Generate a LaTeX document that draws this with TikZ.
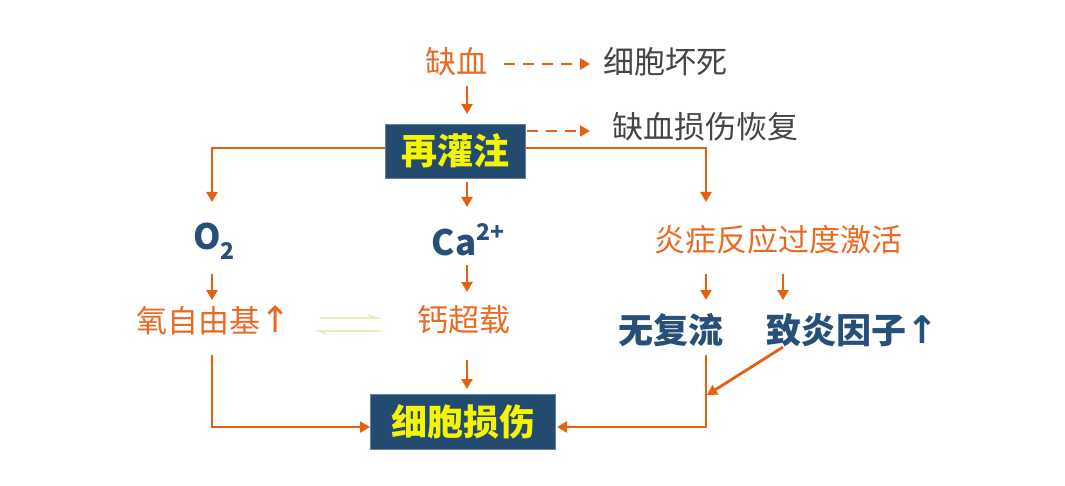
\documentclass[tikz,border=0pt]{standalone}
\usepackage{fontspec}
\usetikzlibrary{arrows.meta}
\newfontfamily\cjk{Noto Sans CJK SC}
\newfontfamily\dv{DejaVu Sans}
\definecolor{orng}{HTML}{E96A22}
\definecolor{lineo}{HTML}{E5600F}
\definecolor{dblue}{HTML}{26507A}
\definecolor{boxb}{HTML}{234B70}
\definecolor{ylw}{HTML}{F5F500}
\definecolor{gry}{HTML}{454545}
\definecolor{faint}{HTML}{E8EDBE}
\begin{document}
\begin{tikzpicture}[x=1pt,y=-1pt,
  otext/.style={font=\cjk\fontsize{31}{34}\selectfont, text=orng, inner sep=0pt},
  gtext/.style={font=\cjk\fontsize{31}{34}\selectfont, text=gry, inner sep=0pt},
  btext/.style={font=\cjk\bfseries\fontsize{35}{38}\selectfont, text=dblue, inner sep=0pt},
  chem/.style={font=\cjk\bfseries\fontsize{35}{38}\selectfont, text=dblue, inner sep=0pt},
  boxnode/.style={fill=boxb, draw=boxb!70!white, line width=0.8pt, text=ylw, font=\cjk\bfseries\fontsize{36}{40}\selectfont, inner sep=0pt},
  conn/.style={draw=lineo, line width=2.8pt, -{Triangle[length=10pt,width=11pt]}},
  dconn/.style={draw=lineo, line width=2.8pt, dash pattern=on 11pt off 8pt, -{Triangle[length=10pt,width=11pt]}}
]
\useasboundingbox (0,0) rectangle (1065,486);
% nodes
\node[otext] (que) at (456,62) {缺血};
\node[gtext] (necro) at (665,62) {细胞坏死};
\node[boxnode, minimum width=140pt, minimum height=54pt] (rep) at (455,151) {再灌注};
\node[gtext] (recov) at (705,127) {缺血损伤恢复};
\node[chem] (o2) at (214,241) {O\raisebox{-0.3em}{\fontsize{23}{24}\selectfont 2}};
\node[chem] (ca) at (468,240) {Ca\raisebox{0.42em}{\fontsize{23}{24}\selectfont 2+}};
\node[otext] (infl) at (778,240) {炎症反应过度激活};
\node[otext] (ros) at (214,321) {氧自由基{\dv\fontsize{36}{38}\selectfont ↑}};
\node[otext] (caov) at (464,320) {钙超载};
\node[btext] (noflow) at (671,330) {无复流};
\node[btext] (cyto) at (852,330) {致炎因子{\dv\fontsize{38}{40}\selectfont ↑}};
\node[boxnode, minimum width=185pt, minimum height=55pt] (dmg) at (463,422) {细胞损伤};
% faint double arrow
\coordinate (fa1) at (320,318);
\coordinate (fa2) at (381,318);
\coordinate (fb1) at (381,331);
\coordinate (fb2) at (314,331);
\draw[faint, line width=1.8pt, -{Straight Barb[left,length=8pt,width=6pt]}] (fa1) -- (fa2);
\draw[faint, line width=1.8pt, -{Straight Barb[left,length=8pt,width=6pt]}] (fb1) -- (fb2);
% connector coordinates
\coordinate (d1s) at (504,64);
\coordinate (d1e) at (590,64);
\coordinate (d2s) at (527,131);
\coordinate (d2e) at (590,131);
\coordinate (a1s) at (467,86);
\coordinate (a1e) at (467,114);
\coordinate (lt) at (212,148);
\coordinate (lb) at (212,202);
\coordinate (ms) at (467,182);
\coordinate (mb) at (467,207);
\coordinate (rt) at (706,148);
\coordinate (rb) at (706,202);
\coordinate (r1s) at (212,274);
\coordinate (r1e) at (212,300);
\coordinate (r2s) at (467,265);
\coordinate (r2e) at (467,292);
\coordinate (r3s) at (706,274);
\coordinate (r3e) at (706,300);
\coordinate (r4s) at (783,274);
\coordinate (r4e) at (783,300);
\coordinate (c1s) at (467,360);
\coordinate (c1e) at (467,389);
\coordinate (ls) at (212,355);
\coordinate (lc) at (212,427);
\coordinate (le) at (370,427);
\coordinate (rs) at (706,355);
\coordinate (rc) at (706,427);
\coordinate (re) at (557,427);
\coordinate (gs) at (783,347);
\coordinate (ge) at (707,395);
% connectors
\draw[dconn] (d1s) -- (d1e);
\draw[dconn] (d2s) -- (d2e);
\draw[conn] (a1s) -- (a1e);
\draw[conn] (rep.west |- lt) -- (lt) -- (lb);
\draw[conn] (ms) -- (mb);
\draw[conn] (rep.east |- rt) -- (rt) -- (rb);
\draw[conn] (r1s) -- (r1e);
\draw[conn] (r2s) -- (r2e);
\draw[conn] (r3s) -- (r3e);
\draw[conn] (r4s) -- (r4e);
\draw[conn] (c1s) -- (c1e);
\draw[conn] (ls) -- (lc) -- (le);
\draw[conn] (rs) -- (rc) -- (re);
\draw[conn] (gs) -- (ge);
\end{tikzpicture}
\end{document}
